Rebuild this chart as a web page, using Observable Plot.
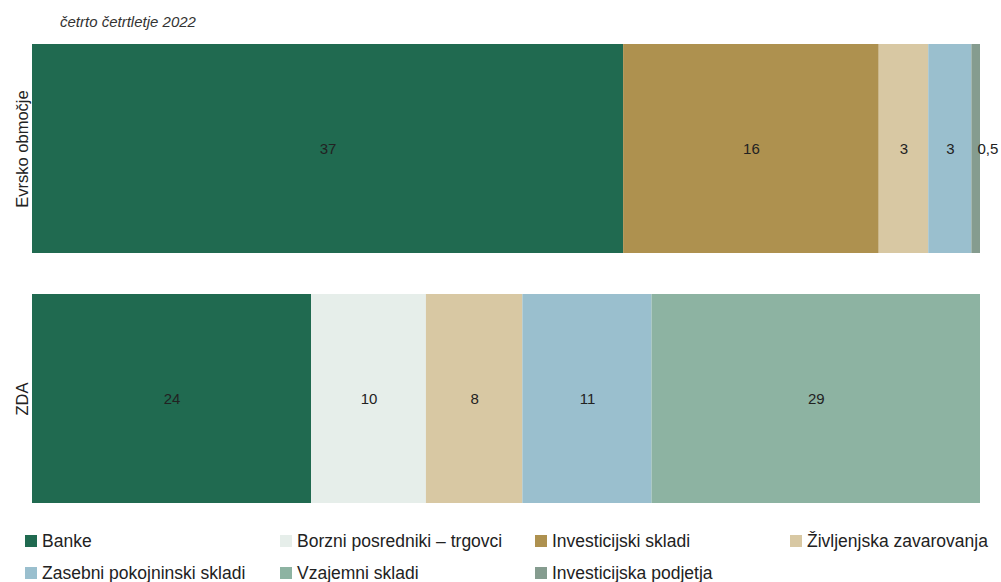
<!DOCTYPE html>
<html>
<head>
<meta charset="utf-8">
<script src="https://cdn.jsdelivr.net/npm/d3@7"></script>
<script src="https://cdn.jsdelivr.net/npm/@observablehq/plot@0.6"></script>
<style>
  html, body { margin: 0; padding: 0; background: #fff; }
  #wrap { position: relative; width: 1001px; height: 582px; overflow: hidden; font-family: "Liberation Sans", Arial, sans-serif; }
  #subtitle { position: absolute; top: 13px; left: 60px; font-style: italic; font-size: 15px; color: #333; line-height: 17px; }
  #chart svg { display: block; }
  #legend { display: grid; grid-template-columns: 255px 255px 255px 236px; padding-left: 25px; padding-top: 10px; }
  .item { display: flex; align-items: center; height: 32px; font-size: 17.5px; color: #222; white-space: nowrap; }
  .sw { width: 12px; height: 12px; margin-right: 5px; flex: none; }
</style>
</head>
<body>
<div id="wrap">
  <div id="chart"></div>
  <div id="subtitle"></div>
  <div id="legend"></div>
</div>
<script>
const subtitle = "četrto četrtletje 2022";
const regions = ["Evrsko območje", "ZDA"];
const sectors = [
  "Banke",
  "Borzni posredniki – trgovci",
  "Investicijski skladi",
  "Življenjska zavarovanja",
  "Zasebni pokojninski skladi",
  "Vzajemni skladi",
  "Investicijska podjetja"
];
const colors = ["#206a50", "#e6eeea", "#ae914f", "#d8c8a3", "#9abfce", "#8db3a2", "#859c8f"];
const euroValues = [37, 0, 16, 3.1, 2.7, 0, 0.54];
const usValues = [24.3, 10, 0, 8.4, 11.25, 28.6, 0];

const data = [];
sectors.forEach((s, i) => {
  if (euroValues[i] > 0) data.push({region: regions[0], sector: s, value: euroValues[i]});
  if (usValues[i] > 0) data.push({region: regions[1], sector: s, value: usValues[i]});
});

const fmt = v => v < 1 ? v.toFixed(1).replace(".", ",") : String(Math.round(v));

document.getElementById("subtitle").textContent = subtitle;

const chart = Plot.plot({
  width: 1001,
  height: 515,
  marginLeft: 32,
  marginRight: 21,
  marginTop: 44,
  marginBottom: 12,
  style: {fontFamily: "'Liberation Sans', Arial, sans-serif", background: "#fff"},
  x: {domain: [0, 1], axis: null},
  y: {domain: regions, paddingInner: 0.164, paddingOuter: 0},
  color: {domain: sectors, range: colors},
  marks: [
    Plot.barX(data, Plot.stackX({x: "value", y: "region", fill: "sector", order: sectors, offset: "normalize"})),
    Plot.text(data, Plot.stackX({x: "value", y: "region", z: "sector", order: sectors, offset: "normalize",
      text: d => d.value >= 1 ? fmt(d.value) : "", fontSize: 15, fill: "#222"})),
    Plot.text(data, Plot.stackX2({x: "value", y: "region", z: "sector", order: sectors, offset: "normalize",
      text: d => d.value < 1 ? fmt(d.value) : "", fontSize: 15, fill: "#222", textAnchor: "start", dx: -3})),
    Plot.axisY({tickSize: 0, tickRotate: -90, tickPadding: 5, fontSize: 16.5, label: null, color: "#222"})
  ]
});
document.getElementById("chart").appendChild(chart);

const legend = document.getElementById("legend");
sectors.forEach((s, i) => {
  const it = document.createElement("div");
  it.className = "item";
  const sw = document.createElement("span");
  sw.className = "sw";
  sw.style.background = colors[i];
  const tx = document.createElement("span");
  tx.textContent = s;
  it.appendChild(sw); it.appendChild(tx);
  legend.appendChild(it);
});
</script>
</body>
</html>
